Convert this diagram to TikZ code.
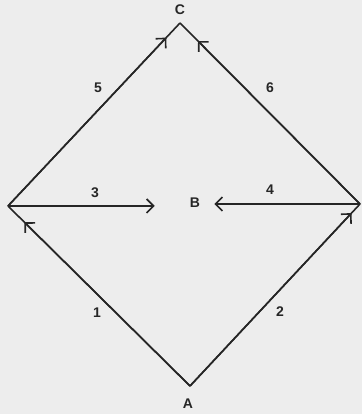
\documentclass[tikz,border=0pt]{standalone}
\usepackage{fontspec}
\setmainfont{Liberation Sans}
\usetikzlibrary{arrows.meta}
\begin{document}
\begin{tikzpicture}[x=1pt,y=1pt,
  edge/.style={line width=1.6pt, draw=black!85},
  barb/.style={-{Straight Barb[length=7pt,width=14pt]}},
  lbl/.style={font=\bfseries\fontsize{14}{16}\selectfont, text=black!85, inner sep=1pt}
]
\fill[black!7] (0,0) rectangle (362,414);
\useasboundingbox (0,0) rectangle (362,414);
\coordinate (Av) at (190,28);
\coordinate (Cv) at (180,391);
\coordinate (Lv) at (8,208);
\coordinate (Rv) at (360,210);
\node[lbl] (C) at (180,404) {C};
\node[lbl] (A) at (188,10) {A};
\node[lbl] (B) at (195,211) {B};
\path (Av) -- (Lv) coordinate[pos=0.91] (t1);
\path (Av) -- (Rv) coordinate[pos=0.95] (t2);
\path (Lv) -- (Cv) coordinate[pos=0.92] (t5);
\path (Rv) -- (Cv) coordinate[pos=0.9] (t6);
\draw[edge] (Av) -- (Lv);
\draw[edge] (Av) -- (Rv);
\draw[edge] (Lv) -- (Cv);
\draw[edge] (Rv) -- (Cv);
\draw[edge,barb] (Av) -- (t1);
\draw[edge,barb] (Av) -- (t2);
\draw[edge,barb] (Lv) -- (t5);
\draw[edge,barb] (Rv) -- (t6);
\draw[edge,barb] (Lv) -- ([xshift=-34pt]B.west |- Lv);
\draw[edge,barb] (Rv) -- ([xshift=13pt]B.east |- Rv);
\node[lbl] (n5) at (98,326) {5};
\node[lbl] (n6) at (270,326) {6};
\node[lbl] (n3) at (95,221) {3};
\node[lbl] (n4) at (270,224) {4};
\node[lbl] (n1) at (97,101) {1};
\node[lbl] (n2) at (280,102) {2};
\end{tikzpicture}
\end{document}
